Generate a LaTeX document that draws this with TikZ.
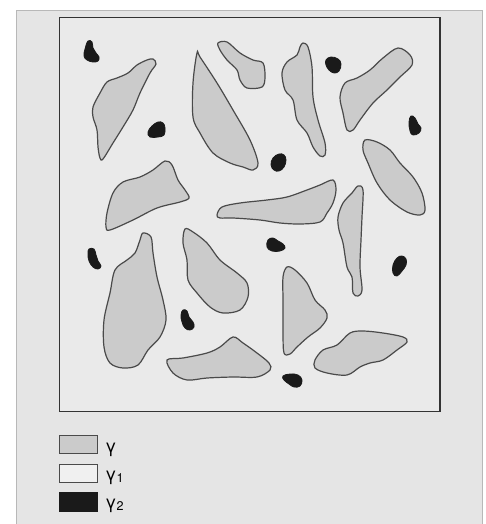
\documentclass[tikz,border=0pt]{standalone}
\usepackage{fontspec}
\newfontfamily\legendfont{TeX Gyre Heros}
\begin{document}
\begin{tikzpicture}[x=1pt,y=-1pt,
  grain/.style={fill=graingray, draw=edgegray, line width=1.2pt},
  blob/.style={fill=blobblack, draw=blobblack, line width=0.8pt},
  legendbox/.style={draw=edgegray, line width=1pt},
  legendlabel/.style={anchor=base west, inner sep=0pt, font=\legendfont\fontsize{18}{20}\selectfont}]
\definecolor{graingray}{HTML}{CBCBCB}
\definecolor{edgegray}{HTML}{4A4A4A}
\definecolor{blobblack}{HTML}{1A1A1A}
\definecolor{panelgray}{HTML}{E5E5E5}
\definecolor{matrixgray}{HTML}{EAEAEA}
\definecolor{panelline}{HTML}{B8B8B8}
\useasboundingbox (0,0) rectangle (486,524);
\fill[white] (0,0) rectangle (486,524);
% outer panel
\draw[panelline, fill=panelgray, line width=0.8pt] (16,530) -- (16,10) -- (482,10) -- (482,530);
% inner square
\draw[fill=matrixgray, draw=black!80, line width=1.1pt] (59.5,17.5) rectangle (440,411.5);

% gamma grains
\draw[grain] plot[smooth cycle, tension=0.55] coordinates {(153,59) (147,60) (137,65) (128,73) (117,78) (107,82) (100,93) (93,107) (93,117) (97,130) (98,147) (100,158) (103,159) (113,143) (123,127) (133,110) (140,93) (150,73) (156,64)};
\draw[grain] plot[smooth cycle, tension=0.55] coordinates {(197,53) (200,57) (217,83) (233,110) (250,140) (258,163) (253,170) (243,167) (230,163) (213,153) (200,133) (193,117) (193,83)};
\draw[grain] plot[smooth cycle, tension=0.55] coordinates {(218,43) (227,42) (240,53) (253,60) (263,63) (265,77) (262,87) (247,88) (240,80) (237,70) (227,60) (220,50)};
\draw[grain] plot[smooth cycle, tension=0.55] coordinates {(303,43) (308,47) (312,67) (313,97) (318,120) (325,143) (325,155) (320,156) (313,147) (307,133) (297,120) (293,100) (285,90) (282,73) (287,62) (297,55) (300,47)};
\draw[grain] plot[smooth cycle, tension=0.55] coordinates {(398,48) (410,55) (412,65) (400,77) (387,90) (373,103) (360,120) (353,130) (347,130) (343,113) (340,97) (345,83) (357,78) (370,70) (383,58)};
\draw[grain] plot[smooth cycle, tension=0.55] coordinates {(365,140) (377,142) (390,150) (400,163) (413,177) (422,193) (425,210) (420,215) (407,212) (390,200) (377,183) (368,163) (363,150)};
\draw[grain] plot[smooth cycle, tension=0.55] coordinates {(165,161) (172,165) (178,180) (185,190) (189,198) (180,202) (157,208) (133,220) (110,230) (106,227) (107,213) (113,193) (123,182) (140,177) (153,170)};
\draw[grain] plot[smooth cycle, tension=0.55] coordinates {(217,215) (222,207) (240,203) (267,200) (287,197) (307,190) (320,185) (333,180) (336,190) (333,203) (327,213) (320,222) (300,224) (280,223) (260,220) (233,218) (220,218)};
\draw[grain] plot[smooth cycle, tension=0.55] coordinates {(358,186) (363,190) (362,217) (361,240) (360,267) (362,290) (358,296) (353,293) (352,277) (347,267) (343,243) (339,230) (338,217) (343,203) (352,193)};
\draw[grain] plot[smooth cycle, tension=0.55] coordinates {(143,233) (151,237) (153,253) (157,277) (163,300) (166,320) (160,337) (148,350) (138,365) (123,368) (110,363) (104,347) (104,320) (110,293) (115,270) (127,260) (135,253) (140,240)};
\draw[grain] plot[smooth cycle, tension=0.55] coordinates {(185,229) (193,232) (207,243) (220,260) (237,273) (247,283) (248,297) (240,310) (223,313) (210,307) (197,293) (188,280) (187,260) (183,243)};
\draw[grain] plot[smooth cycle, tension=0.55] coordinates {(287,267) (295,270) (307,283) (315,300) (325,310) (327,318) (320,328) (308,337) (297,347) (290,354) (284,353) (283,333) (283,300) (283,277)};
\draw[grain] plot[smooth cycle, tension=0.55] coordinates {(167,360) (183,358) (207,353) (220,347) (233,337) (243,343) (257,353) (269,363) (270,370) (257,377) (233,377) (207,378) (187,380) (173,373)};
\draw[grain] plot[smooth cycle, tension=0.55] coordinates {(315,360) (323,350) (337,345) (350,333) (363,331) (383,333) (403,337) (407,342) (397,350) (383,360) (370,363) (360,367) (347,375) (327,373) (315,368)};

% gamma2 particles
\draw[blob] plot[smooth cycle, tension=0.7] coordinates {(88,41) (92,42) (93,48) (96,53) (99,57) (98,61) (93,62) (87,60) (84,56) (85,49)};
\draw[blob] plot[smooth cycle, tension=0.7] coordinates {(148,132) (152,126) (158,122) (163,123) (165,128) (164,135) (158,137) (150,137)};
\draw[blob] plot[smooth cycle, tension=0.7] coordinates {(326,60) (331,57) (338,59) (341,64) (339,71) (334,73) (329,70) (326,65)};
\draw[blob] plot[smooth cycle, tension=0.7] coordinates {(411,116) (415,118) (418,124) (421,128) (419,133) (413,135) (410,131) (409,122)};
\draw[blob] plot[smooth cycle, tension=0.7] coordinates {(279,154) (284,155) (286,160) (284,167) (279,171) (274,170) (271,165) (273,158)};
\draw[blob] plot[smooth cycle, tension=0.7] coordinates {(268,240) (273,238) (278,241) (283,244) (285,248) (280,251) (272,251) (267,247)};
\draw[blob] plot[smooth cycle, tension=0.7] coordinates {(89,249) (94,249) (96,255) (98,261) (101,266) (98,269) (93,267) (89,261) (88,254)};
\draw[blob] plot[smooth cycle, tension=0.7] coordinates {(402,256) (406,259) (406,265) (402,271) (397,276) (393,273) (393,265) (397,258)};
\draw[blob] plot[smooth cycle, tension=0.7] coordinates {(183,310) (187,311) (189,317) (193,322) (194,327) (190,330) (185,328) (182,322) (181,315)};
\draw[blob] plot[smooth cycle, tension=0.7] coordinates {(283,376) (290,374) (298,375) (302,380) (300,386) (294,387) (289,384) (284,380)};

% legend
\draw[legendbox, fill=graingray] (59.5,435.5) rectangle (97,453);
\draw[legendbox, fill=matrixgray!70!white] (59.5,464) rectangle (97,482);
\draw[legendbox, fill=blobblack, draw=blobblack] (59.5,492.5) rectangle (97,511);
\node[legendlabel] (lg) at (105,452) {γ};
\node[legendlabel] (lg1) at (105,480) {γ\textsubscript{1}};
\node[legendlabel] (lg2) at (105,508) {γ\textsubscript{2}};
\end{tikzpicture}
\end{document}
